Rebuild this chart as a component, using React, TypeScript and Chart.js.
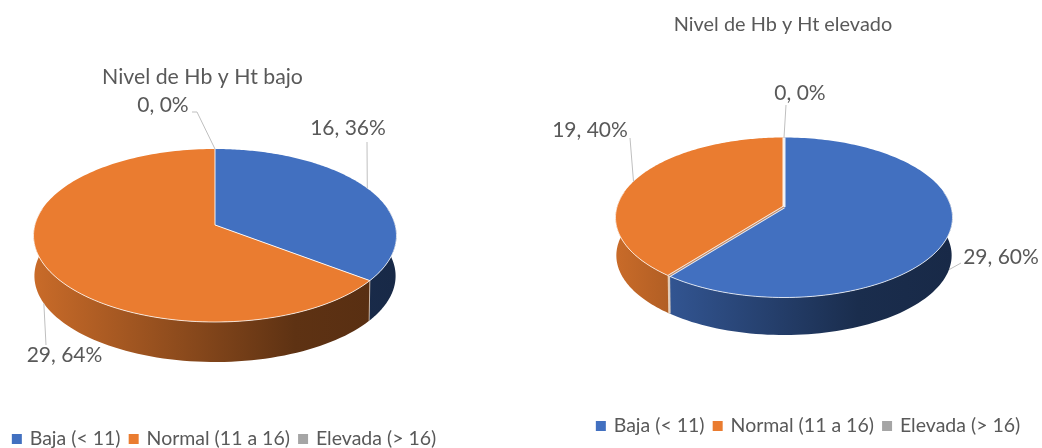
import React, { useEffect, useRef } from "react";
import { Chart, registerables } from "chart.js";

Chart.register(...registerables);

const categories = ["Baja (< 11)", "Normal (11 a 16)", "Elevada (> 16)"];
const sliceColors = ["#4270C0", "#EA7C30", "#A5A5A5"];
const lowLevelValues = [16, 29, 0];
const highLevelValues = [29, 19, 0];
const lowLevelTitle = "Nivel de Hb y Ht bajo";
const highLevelTitle = "Nivel de Hb y Ht elevado";

const TEXT = "#595959";
const LEADER = "#BFBFBF";
const FONT = "Lato";

type Callout = { x: number; y: number; path: number[][] };
type Scene = {
  cx: number; cy: number; rx: number; ry: number;
  lift: number; depth: number; taper: number; seam: number;
  titleX: number; titleY: number; titleSize: number;
  legendX: number; legendY: number;
  callouts: Callout[];
};

const lowScene: Scene = {
  cx: 215, cy: 235.5, rx: 182, ry: 86.5, lift: -12, depth: 40.5, taper: 0.995, seam: 1,
  titleX: 202.5, titleY: 77, titleSize: 21.3,
  legendX: 225, legendY: 440,
  callouts: [
    { x: 348, y: 128, path: [[367, 142]] },
    { x: 64.5, y: 355, path: [[46, 345]] },
    { x: 163, y: 105, path: [[197, 112], [192, 112]] },
  ],
};

const highScene: Scene = {
  cx: 784, cy: 217.5, rx: 170, ry: 80, lift: -12, depth: 38, taper: 0.995, seam: 3,
  titleX: 783, titleY: 25, titleSize: 19.9,
  legendX: 809, legendY: 427,
  callouts: [
    { x: 1001, y: 257, path: [[961, 263]] },
    { x: 590, y: 130, path: [[630, 138]] },
    { x: 800, y: 93, path: [[786, 105]] },
  ],
};

function shade(hex: string, f: number) {
  const n = parseInt(hex.slice(1), 16);
  const c = (v: number) => Math.round(v * f);
  return `rgb(${c((n >> 16) & 255)},${c((n >> 8) & 255)},${c(n & 255)})`;
}

// Tilted-disc projection: maps a clockwise-from-top angle on the disc to the
// canvas, keeping the rim an ellipse while the hub sits above the ellipse centre.
function projector(scene: Scene, rx: number, x0: number, y0: number) {
  const { ry, lift } = scene;
  const k = lift / ry;
  const a = Math.sqrt(1 - k * k);
  return (theta: number, scale = 1, drop = 0) => {
    const u = Math.sin(theta);
    const v = -Math.cos(theta);
    const w = 1 + k * v;
    return {
      x: x0 + (rx * scale * a * u) / w,
      y: y0 + drop + (ry * scale * v + lift) / w,
    };
  };
}

function tiltedPiePlugin(scene: Scene) {
  const FRONT_START = (80 * Math.PI) / 180;
  const FRONT_END = (280 * Math.PI) / 180;
  return {
    id: "tiltedPie",
    afterLayout(chart: any) {
      // Place the disc, title and legend independently of the default stacking.
      const { cx, cy, rx } = scene;
      chart.chartArea = {
        left: cx - rx, right: cx + rx, top: cy - rx, bottom: cy + rx,
        width: 2 * rx, height: 2 * rx,
      };
      const title = chart.titleBlock;
      const th = title.bottom - title.top;
      title.left = scene.titleX - 250;
      title.right = scene.titleX + 250;
      title.top = scene.titleY - th / 2;
      title.bottom = scene.titleY + th / 2;
      const legend = chart.legend;
      const lh = legend.bottom - legend.top;
      legend.left = scene.legendX - 300;
      legend.right = scene.legendX + 300;
      legend.width = 600;
      const pad = legend.options.labels.padding;
      const fs = legend.options.labels.font.size;
      legend.top = scene.legendY - pad - fs / 2 - 1;
      legend.bottom = legend.top + lh;
    },
    beforeDatasetDraw(chart: any, args: any) {
      const { ctx } = chart;
      const arcs = args.meta.data;
      const values: number[] = chart.data.datasets[args.index].data;
      const total = values.reduce((s, v) => s + v, 0);
      const first = arcs[0];
      const x0 = first.x;
      const y0 = first.y;
      const rx = first.outerRadius;
      const at = projector(scene, rx, x0, y0);
      const angle = (a: number) => a + Math.PI / 2;
      const wide = scene.seam > 1;

      // Side wall of the slices facing the viewer.
      ctx.save();
      arcs.forEach((arc: any) => {
        const t1 = Math.max(angle(arc.startAngle), FRONT_START);
        const t2 = Math.min(angle(arc.endAngle), FRONT_END);
        if (t2 <= t1) return;
        const base = arc.options.backgroundColor;
        const grad = ctx.createLinearGradient(x0 - rx, 0, x0 + rx, 0);
        grad.addColorStop(0, shade(base, 0.86));
        grad.addColorStop(0.72, shade(base, 0.4));
        grad.addColorStop(1, shade(base, 0.37));
        ctx.beginPath();
        const steps = 80;
        for (let i = 0; i <= steps; i++) {
          const p = at(t1 + ((t2 - t1) * i) / steps);
          if (i === 0) ctx.moveTo(p.x, p.y); else ctx.lineTo(p.x, p.y);
        }
        for (let i = steps; i >= 0; i--) {
          const p = at(t1 + ((t2 - t1) * i) / steps, scene.taper, scene.depth);
          ctx.lineTo(p.x, p.y);
        }
        ctx.closePath();
        ctx.fillStyle = grad;
        ctx.fill();
      });
      // Pale joints where two slices meet on the wall.
      arcs.forEach((arc: any) => {
        const t = angle(arc.endAngle);
        if (t <= FRONT_START || t >= FRONT_END || arc.endAngle === arc.startAngle) return;
        const p = at(t);
        const q = at(t, scene.taper, scene.depth);
        ctx.beginPath();
        ctx.moveTo(p.x, p.y);
        ctx.lineTo(q.x, q.y);
        ctx.strokeStyle = "rgba(235,215,195,0.9)";
        ctx.lineWidth = wide ? 2.4 : 0.8;
        ctx.stroke();
      });

      // Top face.
      const hub = at(0, 0);
      arcs.forEach((arc: any) => {
        const t1 = angle(arc.startAngle);
        const t2 = angle(arc.endAngle);
        if (t2 <= t1) return;
        ctx.beginPath();
        ctx.moveTo(hub.x, hub.y);
        const steps = 160;
        for (let i = 0; i <= steps; i++) {
          const p = at(t1 + ((t2 - t1) * i) / steps);
          ctx.lineTo(p.x, p.y);
        }
        ctx.closePath();
        ctx.fillStyle = arc.options.backgroundColor;
        ctx.fill();
      });

      // Light front rim and cuts between slices.
      ctx.beginPath();
      for (let i = 0; i <= 120; i++) {
        const p = at(FRONT_START + ((FRONT_END - FRONT_START) * i) / 120);
        if (i === 0) ctx.moveTo(p.x, p.y); else ctx.lineTo(p.x, p.y);
      }
      ctx.strokeStyle = "rgba(255,255,255,0.75)";
      ctx.lineWidth = 1;
      ctx.stroke();
      arcs.forEach((arc: any) => {
        if (arc.endAngle === arc.startAngle) return;
        const t = angle(arc.startAngle);
        const p = at(t);
        ctx.beginPath();
        ctx.moveTo(hub.x, hub.y);
        ctx.lineTo(p.x, p.y);
        ctx.strokeStyle = "rgba(255,255,255,0.9)";
        ctx.lineWidth = arc.options.borderWidth;
        ctx.stroke();
        if (wide && t > FRONT_START) {
          // A wide cut that faces the viewer shows the brownish inner face.
          ctx.beginPath();
          ctx.moveTo(hub.x, hub.y);
          ctx.lineTo(p.x, p.y);
          ctx.strokeStyle = "rgba(176,120,86,0.85)";
          ctx.lineWidth = 1.2;
          ctx.stroke();
        }
      });

      // Callouts: value, share and leader line.
      arcs.forEach((arc: any, i: number) => {
        const mid = angle((arc.startAngle + arc.endAngle) / 2);
        const front = mid > Math.PI / 2 && mid < (3 * Math.PI) / 2;
        const anchor = front ? at(mid, scene.taper, scene.depth) : at(mid);
        const c = scene.callouts[i];
        ctx.beginPath();
        ctx.moveTo(anchor.x, anchor.y);
        c.path.forEach((p) => ctx.lineTo(p[0], p[1]));
        ctx.strokeStyle = LEADER;
        ctx.lineWidth = 1;
        ctx.stroke();
        ctx.font = `21px ${FONT}`;
        ctx.fillStyle = TEXT;
        ctx.textAlign = "center";
        ctx.textBaseline = "middle";
        ctx.fillText(`${values[i]}, ${Math.round((values[i] / total) * 100)}%`, c.x, c.y);
      });
      ctx.restore();
      return false;
    },
  };
}

function usePie(
  ref: React.RefObject<HTMLCanvasElement | null>,
  values: number[],
  title: string,
  scene: Scene,
) {
  useEffect(() => {
    const chart = new Chart(ref.current as HTMLCanvasElement, {
      type: "pie",
      data: {
        labels: categories,
        datasets: [{
          data: values,
          backgroundColor: sliceColors,
          borderColor: "#FFFFFF",
          borderWidth: scene.seam,
        }],
      },
      options: {
        responsive: false,
        animation: false,
        plugins: {
          tooltip: { enabled: false },
          title: {
            display: true,
            text: title,
            color: TEXT,
            padding: 0,
            font: { family: FONT, size: scene.titleSize, weight: "normal" },
          },
          legend: {
            display: true,
            position: "bottom",
            labels: {
              color: TEXT,
              usePointStyle: true,
              pointStyle: "rect",
              boxWidth: 6.25,
              boxHeight: 10,
              padding: 10,
              font: { family: FONT, size: 19.5 },
              generateLabels: (c: any) =>
                Chart.overrides.pie.plugins.legend.labels
                  .generateLabels(c)
                  .map((item: any) => ({ ...item, lineWidth: 0 })),
            },
          },
        },
      },
      plugins: [tiltedPiePlugin(scene)],
    } as any);
    return () => chart.destroy();
  }, []);
}

const canvasStyle: React.CSSProperties = { position: "absolute", left: 0, top: 0 };

export default function App() {
  const lowRef = useRef<HTMLCanvasElement>(null);
  const highRef = useRef<HTMLCanvasElement>(null);
  usePie(lowRef, lowLevelValues, lowLevelTitle, lowScene);
  usePie(highRef, highLevelValues, highLevelTitle, highScene);
  return (
    <div style={{ position: "fixed", left: 0, top: 0, width: 1042, height: 448, background: "#fff", overflow: "hidden" }}>
      <canvas ref={lowRef} width={1042} height={448} style={canvasStyle} />
      <canvas ref={highRef} width={1042} height={448} style={canvasStyle} />
    </div>
  );
}
